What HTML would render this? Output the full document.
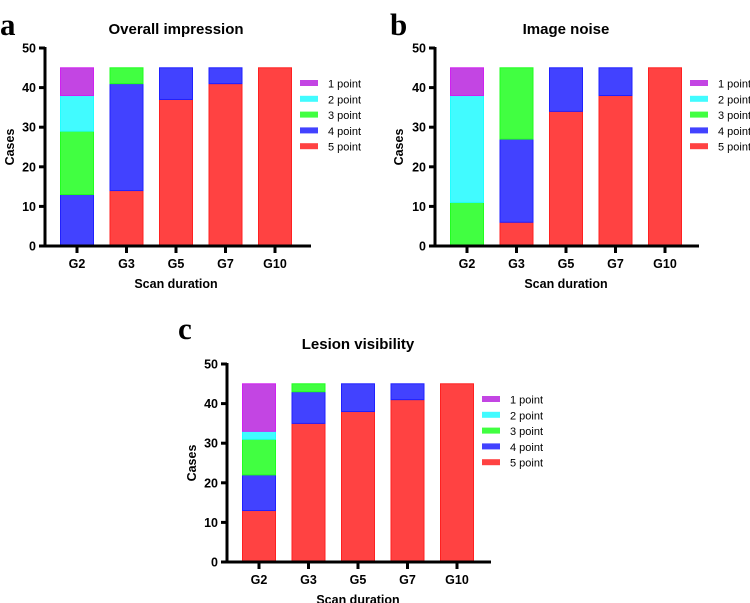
<!DOCTYPE html>
<html><head><meta charset="utf-8"><style>
html,body{margin:0;padding:0;background:#fff;overflow:hidden;}
svg{display:block;font-family:"Liberation Sans",Arial,sans-serif;}
</style></head><body>
<svg id="fig" width="750" height="603" viewBox="0 0 750 603"></svg>
<script>
const categories = ["G2","G3","G5","G7","G10"];
const seriesNames = ["1 point","2 point","3 point","4 point","5 point"];
const a5 = [0,14,37,41,45];
const a4 = [13,27,8,4,0];
const a3 = [16,4,0,0,0];
const a2 = [9,0,0,0,0];
const a1 = [7,0,0,0,0];
const b5 = [0,6,34,38,45];
const b4 = [0,21,11,7,0];
const b3 = [11,18,0,0,0];
const b2 = [27,0,0,0,0];
const b1 = [7,0,0,0,0];
const c5 = [13,35,38,41,45];
const c4 = [9,8,7,4,0];
const c3 = [9,2,0,0,0];
const c2 = [2,0,0,0,0];
const c1 = [12,0,0,0,0];
const yTicks = [0,10,20,30,40,50];

const fills = {"1 point":"#c345e3","2 point":"#41fbff","3 point":"#41ff41","4 point":"#4242ff","5 point":"#ff4242"};
const strokes = {"1 point":"#d020f0","2 point":"#20ffff","3 point":"#20ff20","4 point":"#2020ff","5 point":"#ff2020"};
const NS="http://www.w3.org/2000/svg";
const svg=document.getElementById('fig');
function mk(tag,attrs,parent){const e=document.createElementNS(NS,tag);for(const k in attrs)e.setAttribute(k,attrs[k]);(parent||svg).appendChild(e);return e;}

function panel(cfg){
  const g=mk('g',{});
  
  
  const y=v=>cfg.y0-(v/50)*(cfg.y0-cfg.y50);
  const x=i=>cfg.x0+i*cfg.step;
  const L=mk('text',{x:cfg.lx,y:cfg.ly,'font-family':'"Liberation Serif",serif','font-weight':'bold','font-size':31},g);
  L.textContent=cfg.letter;
  
  
  const T=mk('text',{x:cfg.tx,y:cfg.ty,'text-anchor':'middle','font-weight':'bold','font-size':15},g);
  T.textContent=cfg.title;
  
  
  const stacks=[["5 point",cfg.s[4]],["4 point",cfg.s[3]],["3 point",cfg.s[2]],["2 point",cfg.s[1]],["1 point",cfg.s[0]]];
  categories.forEach((c,i)=>{
    let base=0;
    stacks.forEach(([name,arr])=>{
      const v=arr[i]; if(v<=0)return;
      const r=mk('rect',{x:x(i)-cfg.bw/2,y:y(base+v),width:cfg.bw,height:y(base)-y(base+v),fill:fills[name],stroke:strokes[name],'stroke-width':1},g);
      
      
      base+=v;
    });
  });
  const ya=mk('line',{x1:cfg.ax,y1:cfg.y50-1,x2:cfg.ax,y2:cfg.y0+1.5,stroke:'#000','stroke-width':3},g);
  
  
  const xa=mk('line',{x1:cfg.ax-6,y1:cfg.y0,x2:cfg.xend,y2:cfg.y0,stroke:'#000','stroke-width':3},g);
  
  
  yTicks.forEach(t=>{
    mk('line',{x1:cfg.ax-6,y1:y(t),x2:cfg.ax,y2:y(t),stroke:'#000','stroke-width':3},g);
    const tl=mk('text',{x:cfg.ax-9,y:y(t)+4.5,'text-anchor':'end','font-weight':'bold','font-size':12.5},g);
    tl.textContent=t;
    
    
  });
  categories.forEach((c,i)=>{
    mk('line',{x1:x(i),y1:cfg.y0,x2:x(i),y2:cfg.y0+7,stroke:'#000','stroke-width':3},g);
    const tl=mk('text',{x:x(i),y:cfg.y0+22,'text-anchor':'middle','font-weight':'bold','font-size':12.5},g);
    tl.textContent=c;
    
    
  });
  const xt=mk('text',{x:x(2),y:cfg.y0+42,'text-anchor':'middle','font-weight':'bold','font-size':12.5},g);
  xt.textContent='Scan duration';
  
  
  const cy=(cfg.y0+cfg.y50)/2;
  const yt=mk('text',{x:cfg.ytx,y:cy,'text-anchor':'middle','font-weight':'bold','font-size':12.5,transform:`rotate(-90 ${cfg.ytx} ${cy})`},g);
  yt.textContent='Cases';
  
  
  seriesNames.forEach((n,k)=>{
    const ry=cfg.lgy+k*15.8;
    const sw=mk('rect',{x:cfg.lgx,y:ry-3,width:18,height:6,fill:fills[n]},g);
    
    
    const lt=mk('text',{x:cfg.lgx+28,y:ry+4.5,'font-size':11},g);
    lt.textContent=n;
    
    
  });
}
panel({letter:'a',title:'Overall impression',lx:0,ly:35,tx:176,ty:34,ax:45,xend:311,x0:77,step:49.5,bw:33,y0:246,y50:48,ytx:14,lgx:300,lgy:83,s:[a1,a2,a3,a4,a5]});
panel({letter:'b',title:'Image noise',lx:390,ly:35,tx:566,ty:34,ax:435,xend:699,x0:467,step:49.5,bw:33,y0:246,y50:48,ytx:403,lgx:690,lgy:83,s:[b1,b2,b3,b4,b5]});
panel({letter:'c',title:'Lesion visibility',lx:178,ly:339,tx:358,ty:349,ax:227,xend:491,x0:259,step:49.5,bw:33,y0:562,y50:364,ytx:196,lgx:482,lgy:399,s:[c1,c2,c3,c4,c5]});
</script>
</body></html>
